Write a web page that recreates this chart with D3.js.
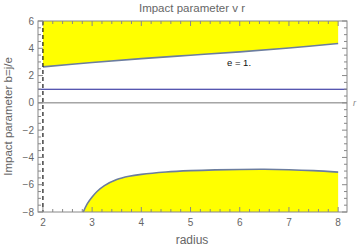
<!DOCTYPE html>
<html>
<head>
<meta charset="utf-8">
<script src="https://cdn.jsdelivr.net/npm/d3@7"></script>
<style>
  body { margin: 0; background: #fff; }
  text { font-family: "Liberation Sans", "DejaVu Sans", sans-serif; }
</style>
</head>
<body>
<div id="chart-area"></div>
<script>
// Impact parameter b against radius r

// upper boundary curve (allowed region above it)
var upperR = [2, 3, 4, 5, 6, 7, 8];
var upperB = [2.64, 2.96, 3.24, 3.49, 3.74, 4.02, 4.35];

// lower boundary curve (allowed region below it)
var lowerR = [2.82, 2.9, 3.0, 3.1, 3.25, 3.5, 3.75, 4.0, 4.5, 5.0, 5.5, 6.0, 6.5, 7.0, 7.5, 8.0];
var lowerB = [-8, -7.4, -6.9, -6.5, -6.07, -5.62, -5.38, -5.24, -5.07, -4.97, -4.91, -4.88, -4.87, -4.9, -4.97, -5.08];

var horizonR = 2;     // dashed line
var blueB = 1;        // horizontal reference line
var xTicks = [2, 3, 4, 5, 6, 7, 8];
var yTicks = [-8, -6, -4, -2, 0, 2, 4, 6];

var width = 360, height = 250;
var plot = { left: 38, right: 347, top: 21, bottom: 212 };

var x = d3.scaleLinear().domain([1.9, 8.18]).range([plot.left, plot.right]);
var y = d3.scaleLinear().domain([-8, 6]).range([plot.bottom, plot.top]);

var svg = d3.select("#chart-area")
    .append("svg")
        .attr("width", width)
        .attr("height", height);

var upper = upperR.map(function(r, i){ return [r, upperB[i]]; });
var lower = lowerR.map(function(r, i){ return [r, lowerB[i]]; });

// yellow fills
svg.append("path")
    .datum(upper)
    .attr("fill", "#ffff00")
    .attr("d", d3.area()
        .curve(d3.curveCatmullRom)
        .x(function(d){ return x(d[0]); })
        .y0(y(6))
        .y1(function(d){ return y(d[1]); }));

svg.append("path")
    .datum(lower)
    .attr("fill", "#ffff00")
    .attr("d", d3.area()
        .curve(d3.curveCatmullRom)
        .x(function(d){ return x(d[0]); })
        .y0(y(-8))
        .y1(function(d){ return y(d[1]); }));

// boundary curves
var line = d3.line()
    .curve(d3.curveCatmullRom)
    .x(function(d){ return x(d[0]); })
    .y(function(d){ return y(d[1]); });

svg.append("path").datum(upper)
    .attr("fill", "none").attr("stroke", "#6b7d9f").attr("stroke-width", 1.6)
    .attr("d", line);
svg.append("path").datum(lower)
    .attr("fill", "none").attr("stroke", "#6b7d9f").attr("stroke-width", 1.6)
    .attr("d", line);

// zero axis
svg.append("line")
    .attr("x1", plot.left).attr("x2", plot.right)
    .attr("y1", y(0)).attr("y2", y(0))
    .attr("stroke", "#777").attr("stroke-width", 1);

// blue line
svg.append("line")
    .attr("x1", plot.left).attr("x2", plot.right)
    .attr("y1", y(blueB)).attr("y2", y(blueB))
    .attr("stroke", "#1e1e96").attr("stroke-width", 1.1);

// dashed line at r = 2
svg.append("line")
    .attr("x1", x(horizonR)).attr("x2", x(horizonR))
    .attr("y1", plot.top).attr("y2", plot.bottom)
    .attr("stroke", "#000").attr("stroke-width", 1.1)
    .attr("stroke-dasharray", "4,3");

// frame with inner ticks
var frameCol = "#888";
svg.append("rect")
    .attr("x", plot.left).attr("y", plot.top)
    .attr("width", plot.right - plot.left).attr("height", plot.bottom - plot.top)
    .attr("fill", "none").attr("stroke", frameCol).attr("stroke-width", 1);

var xMinor = d3.range(1.0, 8.2, 0.2).filter(function(v){ return x(v) > plot.left && x(v) < plot.right; });
var yMinor = d3.range(-8, 6.01, 0.5);

xMinor.forEach(function(v){
    var major = Math.abs(v - Math.round(v)) < 1e-6;
    var len = major ? 5 : 3;
    svg.append("line").attr("x1", x(v)).attr("x2", x(v))
        .attr("y1", plot.bottom).attr("y2", plot.bottom - len).attr("stroke", frameCol);
    svg.append("line").attr("x1", x(v)).attr("x2", x(v))
        .attr("y1", plot.top).attr("y2", plot.top + len).attr("stroke", frameCol);
});
yMinor.forEach(function(v){
    var major = Math.abs(v / 2 - Math.round(v / 2)) < 1e-6;
    var len = major ? 5 : 3;
    svg.append("line").attr("x1", plot.left).attr("x2", plot.left + len)
        .attr("y1", y(v)).attr("y2", y(v)).attr("stroke", frameCol);
    svg.append("line").attr("x1", plot.right).attr("x2", plot.right - len)
        .attr("y1", y(v)).attr("y2", y(v)).attr("stroke", frameCol);
});

// tick labels
svg.selectAll(".xlab").data(xTicks).enter()
    .append("text")
        .attr("x", function(d){ return x(d); })
        .attr("y", plot.bottom + 14)
        .attr("text-anchor", "middle")
        .attr("font-size", "10px")
        .attr("fill", "#666")
        .text(function(d){ return d; });

svg.selectAll(".ylab").data(yTicks).enter()
    .append("text")
        .attr("x", plot.left - 4)
        .attr("y", function(d){ return y(d) + 3.5; })
        .attr("text-anchor", "end")
        .attr("font-size", "10px")
        .attr("fill", "#666")
        .text(function(d){ return d < 0 ? "\u2212" + (-d) : d; });

// titles
svg.append("text")
    .attr("x", 192).attr("y", 12)
    .attr("text-anchor", "middle")
    .attr("font-size", "11.5px").attr("fill", "#666")
    .text("Impact parameter v r");

svg.append("text")
    .attr("x", 192).attr("y", 244)
    .attr("text-anchor", "middle")
    .attr("font-size", "12px").attr("fill", "#666")
    .text("radius");

svg.append("text")
    .attr("transform", "translate(12," + ((plot.top + plot.bottom) / 2) + ") rotate(-90)")
    .attr("text-anchor", "middle")
    .attr("font-size", "11.5px").attr("fill", "#666")
    .text("Impact parameter b=j/e");

svg.append("text")
    .attr("x", 227).attr("y", 66)
    .attr("font-size", "9.5px").attr("fill", "#111")
    .text("e = 1.");

svg.append("text")
    .attr("x", 353).attr("y", 106)
    .attr("font-size", "9px").attr("font-style", "italic").attr("fill", "#888")
    .text("r");
</script>
</body>
</html>
